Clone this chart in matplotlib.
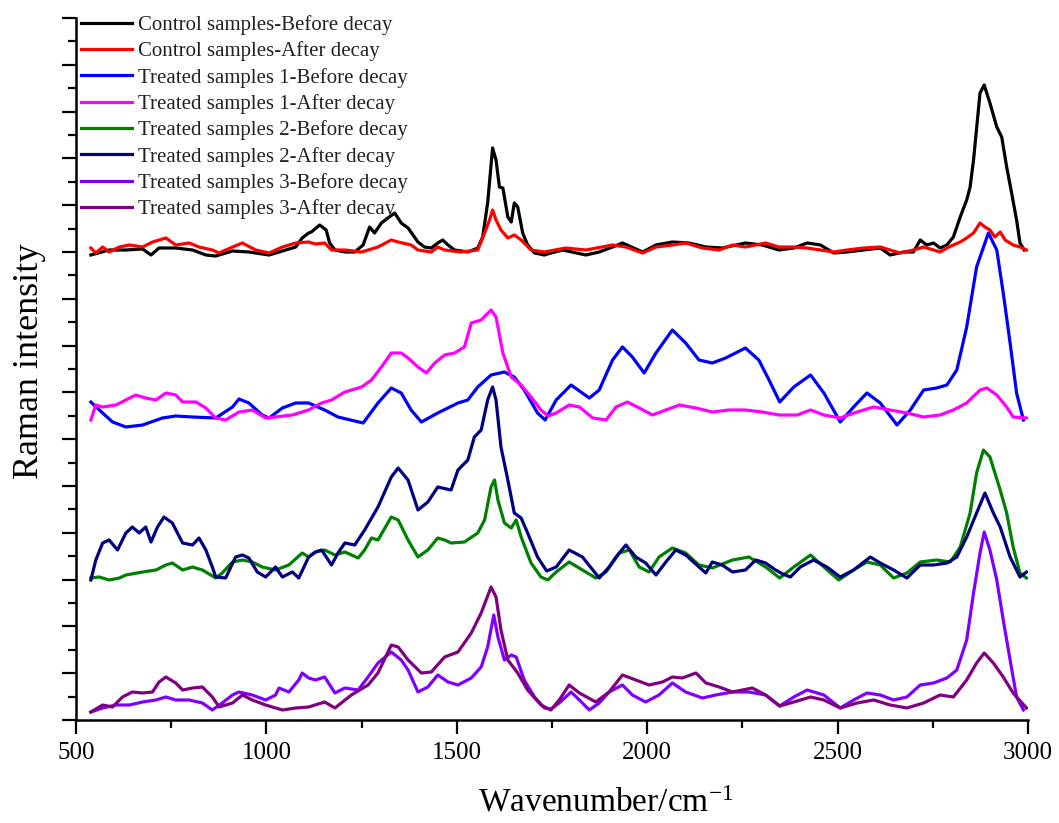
import matplotlib
matplotlib.use("Agg")
import matplotlib.pyplot as plt
from matplotlib.ticker import MultipleLocator, NullFormatter

plt.rcParams['font.family'] = ['Liberation Serif', 'DejaVu Serif']
plt.rcParams['mathtext.fontset'] = 'custom'
plt.rcParams['mathtext.rm'] = 'Liberation Serif'
plt.rcParams['mathtext.it'] = 'Liberation Serif:italic'

labels = ["Control samples-Before decay", "Control samples-After decay",
          "Treated samples 1-Before decay", "Treated samples 1-After decay",
          "Treated samples 2-Before decay", "Treated samples 2-After decay",
          "Treated samples 3-Before decay", "Treated samples 3-After decay"]
colors = ["#000000", "#ff0000", "#0000ff", "#ff00ff",
          "#008000", "#000080", "#8000ff", "#800080"]

cb_x = [539, 587, 631, 675, 697, 718, 762, 806, 841, 867, 911, 954, 1007, 1042, 1077, 1094, 1111, 1118, 1140, 1157, 1166, 1180, 1206, 1232, 1254, 1271, 1284, 1302, 1319, 1337, 1354, 1372, 1385, 1398, 1415, 1433, 1450, 1463, 1477, 1494, 1529, 1555, 1568, 1581, 1594, 1603, 1612, 1621, 1634, 1643, 1651, 1660, 1673, 1686, 1704, 1730, 1747, 1778, 1839, 1874, 1909, 1935, 1988, 2023, 2066, 2110, 2154, 2197, 2258, 2302, 2346, 2385, 2420, 2455, 2490, 2525, 2568, 2612, 2638, 2673, 2699, 2717, 2734, 2752, 2769, 2787, 2804, 2822, 2839, 2848, 2857, 2874, 2885, 2900, 2918, 2931, 2944, 2957, 2970, 2979, 2990]
cb_y = [465, 470, 470, 471, 465, 472, 472, 470, 465, 464, 469, 468, 465, 469, 473, 482, 487, 488, 495, 490, 477, 470, 468, 468, 475, 493, 487, 497, 502, 507, 497, 492, 485, 478, 473, 472, 477, 480, 475, 470, 468, 472, 483, 517, 572, 560, 533, 532, 503, 498, 517, 513, 487, 475, 467, 465, 467, 470, 465, 468, 473, 477, 468, 475, 478, 477, 473, 472, 477, 475, 470, 472, 477, 475, 467, 468, 470, 472, 465, 468, 468, 480, 475, 477, 472, 475, 483, 503, 520, 533, 560, 627, 635, 617, 593, 583, 553, 527, 500, 477, 470]

ca_x = [539, 552, 570, 587, 614, 640, 675, 701, 736, 762, 797, 823, 858, 876, 911, 937, 972, 1007, 1042, 1077, 1111, 1129, 1153, 1171, 1206, 1250, 1293, 1328, 1346, 1380, 1398, 1433, 1450, 1468, 1511, 1555, 1573, 1586, 1594, 1603, 1616, 1634, 1651, 1669, 1695, 1730, 1786, 1839, 1909, 1944, 1988, 2023, 2066, 2101, 2145, 2189, 2224, 2258, 2311, 2346, 2385, 2420, 2455, 2490, 2525, 2568, 2612, 2638, 2664, 2699, 2726, 2752, 2769, 2787, 2804, 2822, 2839, 2857, 2874, 2887, 2900, 2913, 2927, 2940, 2961, 2979, 2996]
ca_y = [472, 467, 473, 468, 473, 475, 473, 478, 482, 475, 477, 473, 470, 467, 473, 477, 470, 467, 473, 477, 478, 476, 477, 470, 470, 468, 473, 480, 478, 475, 470, 468, 473, 470, 468, 470, 487, 500, 510, 500, 490, 482, 485, 480, 470, 468, 472, 470, 475, 473, 467, 473, 475, 477, 472, 470, 475, 473, 477, 473, 473, 472, 470, 468, 470, 472, 473, 470, 467, 470, 473, 470, 468, 472, 475, 478, 482, 487, 497, 493, 490, 483, 488, 480, 475, 473, 470]

t1b_x = [539, 570, 596, 631, 675, 727, 762, 806, 867, 911, 928, 954, 989, 1007, 1042, 1077, 1111, 1129, 1153, 1188, 1254, 1293, 1328, 1354, 1380, 1407, 1450, 1503, 1529, 1555, 1590, 1625, 1651, 1677, 1712, 1732, 1761, 1800, 1848, 1874, 1909, 1935, 1961, 1992, 2023, 2066, 2101, 2136, 2171, 2206, 2258, 2293, 2320, 2348, 2385, 2429, 2464, 2507, 2542, 2577, 2612, 2656, 2691, 2726, 2760, 2787, 2813, 2839, 2865, 2896, 2918, 2935, 2953, 2970, 2988]
t1b_y = [318, 307, 298, 293, 295, 302, 304, 303, 302, 313, 321, 317, 305, 302, 312, 317, 317, 314, 310, 303, 297, 317, 332, 327, 310, 298, 307, 317, 320, 333, 345, 348, 343, 330, 307, 300, 320, 335, 322, 330, 360, 373, 363, 347, 367, 390, 377, 360, 357, 362, 372, 360, 340, 318, 333, 345, 327, 298, 313, 327, 317, 295, 310, 330, 332, 335, 350, 393, 453, 487, 470, 427, 377, 327, 300]

t1a_x = [539, 552, 570, 605, 631, 657, 683, 710, 736, 762, 780, 815, 841, 867, 893, 928, 963, 998, 1024, 1068, 1111, 1129, 1145, 1171, 1206, 1250, 1276, 1302, 1328, 1354, 1372, 1398, 1420, 1442, 1468, 1494, 1520, 1538, 1564, 1590, 1603, 1621, 1643, 1669, 1695, 1721, 1740, 1761, 1795, 1822, 1857, 1892, 1918, 1948, 1979, 2014, 2049, 2084, 2128, 2171, 2215, 2258, 2302, 2346, 2394, 2429, 2464, 2507, 2551, 2595, 2638, 2682, 2726, 2769, 2804, 2839, 2874, 2892, 2918, 2944, 2961, 2996]
t1a_y = [300, 315, 313, 315, 320, 325, 322, 320, 327, 325, 318, 318, 312, 302, 300, 308, 310, 302, 303, 305, 310, 314, 317, 320, 328, 333, 340, 353, 367, 367, 362, 353, 347, 357, 365, 367, 373, 397, 400, 410, 403, 367, 343, 335, 323, 310, 304, 307, 315, 313, 302, 300, 313, 318, 312, 305, 310, 315, 312, 308, 310, 310, 308, 305, 305, 310, 305, 302, 308, 313, 310, 307, 303, 305, 310, 317, 330, 332, 325, 313, 303, 302]

t2b_x = [539, 561, 587, 614, 631, 675, 710, 736, 753, 780, 806, 832, 867, 884, 911, 937, 963, 989, 1024, 1059, 1094, 1111, 1129, 1153, 1180, 1206, 1241, 1258, 1276, 1293, 1328, 1346, 1372, 1398, 1424, 1450, 1468, 1485, 1520, 1555, 1573, 1590, 1599, 1608, 1625, 1643, 1656, 1669, 1695, 1721, 1739, 1761, 1795, 1830, 1865, 1892, 1927, 1953, 1979, 2005, 2031, 2066, 2101, 2136, 2171, 2224, 2267, 2311, 2348, 2385, 2429, 2464, 2503, 2542, 2577, 2612, 2647, 2682, 2717, 2760, 2796, 2822, 2848, 2865, 2883, 2900, 2927, 2944, 2961, 2979, 2996]
t2b_y = [142, 143, 140, 142, 145, 148, 150, 155, 157, 150, 153, 150, 142, 147, 158, 160, 158, 153, 150, 155, 167, 163, 168, 170, 165, 168, 162, 170, 182, 180, 203, 200, 180, 163, 170, 182, 180, 177, 178, 187, 200, 233, 240, 220, 197, 192, 200, 183, 157, 143, 140, 148, 158, 150, 142, 148, 167, 170, 153, 148, 163, 172, 167, 155, 152, 160, 163, 153, 142, 153, 165, 153, 140, 150, 158, 155, 142, 147, 158, 160, 158, 173, 207, 247, 270, 263, 230, 207, 173, 147, 142]

t2a_x = [539, 552, 570, 587, 609, 631, 648, 666, 683, 697, 714, 731, 753, 780, 806, 823, 841, 858, 867, 893, 919, 937, 954, 976, 998, 1024, 1042, 1068, 1085, 1111, 1129, 1145, 1171, 1188, 1206, 1232, 1258, 1293, 1328, 1346, 1372, 1398, 1424, 1450, 1485, 1503, 1529, 1546, 1564, 1581, 1594, 1603, 1616, 1634, 1651, 1669, 1686, 1712, 1736, 1761, 1795, 1830, 1874, 1900, 1918, 1944, 1970, 1996, 2023, 2049, 2075, 2101, 2136, 2154, 2171, 2197, 2224, 2258, 2285, 2311, 2337, 2356, 2376, 2402, 2437, 2472, 2507, 2542, 2586, 2612, 2647, 2682, 2717, 2752, 2787, 2813, 2839, 2865, 2887, 2909, 2927, 2953, 2979, 2996]
t2a_y = [140, 160, 177, 180, 170, 187, 193, 187, 193, 178, 193, 203, 197, 177, 175, 182, 170, 153, 143, 142, 163, 165, 162, 148, 143, 153, 143, 148, 142, 163, 168, 170, 155, 167, 177, 175, 190, 213, 243, 252, 240, 210, 218, 233, 230, 250, 260, 283, 290, 320, 333, 320, 273, 240, 207, 202, 187, 163, 149, 153, 170, 163, 142, 153, 163, 175, 163, 157, 145, 158, 170, 165, 153, 147, 158, 155, 148, 150, 160, 157, 150, 146, 143, 153, 160, 153, 143, 150, 163, 157, 150, 142, 155, 155, 157, 163, 183, 207, 227, 207, 193, 163, 143, 148]

t3b_x = [539, 570, 605, 640, 675, 710, 736, 762, 797, 832, 858, 884, 911, 928, 963, 998, 1024, 1033, 1059, 1085, 1094, 1111, 1129, 1153, 1180, 1206, 1241, 1267, 1293, 1328, 1354, 1372, 1398, 1424, 1450, 1477, 1503, 1538, 1564, 1581, 1597, 1608, 1625, 1643, 1656, 1677, 1704, 1730, 1747, 1769, 1800, 1822, 1848, 1874, 1900, 1935, 1961, 1996, 2031, 2066, 2101, 2145, 2180, 2224, 2267, 2311, 2348, 2385, 2420, 2464, 2507, 2542, 2577, 2612, 2647, 2682, 2717, 2752, 2787, 2813, 2839, 2857, 2874, 2885, 2900, 2918, 2935, 2953, 2970, 2988]
t3b_y = [8, 12, 15, 15, 18, 20, 23, 20, 20, 17, 10, 17, 25, 28, 25, 20, 25, 32, 28, 40, 47, 42, 40, 43, 27, 32, 30, 43, 57, 68, 60, 50, 28, 33, 45, 38, 35, 42, 53, 73, 105, 83, 60, 65, 63, 40, 23, 12, 11, 17, 28, 20, 10, 17, 28, 35, 25, 18, 25, 37, 28, 22, 25, 28, 28, 25, 14, 23, 30, 25, 12, 20, 27, 25, 20, 23, 35, 37, 42, 50, 80, 127, 167, 188, 170, 140, 100, 60, 23, 10]

t3a_x = [539, 570, 596, 622, 648, 675, 701, 718, 736, 762, 780, 806, 832, 858, 876, 911, 937, 963, 998, 1042, 1077, 1111, 1153, 1180, 1223, 1267, 1293, 1328, 1346, 1372, 1407, 1433, 1468, 1503, 1538, 1564, 1590, 1603, 1616, 1634, 1660, 1686, 1721, 1747, 1769, 1795, 1822, 1865, 1900, 1935, 1970, 2005, 2040, 2066, 2092, 2128, 2154, 2189, 2224, 2276, 2311, 2348, 2385, 2429, 2464, 2507, 2551, 2595, 2638, 2682, 2726, 2769, 2804, 2839, 2865, 2885, 2909, 2935, 2961, 2996]
t3a_y = [8, 15, 13, 23, 28, 27, 28, 38, 43, 37, 30, 32, 33, 23, 13, 17, 25, 20, 15, 10, 12, 13, 18, 12, 25, 35, 47, 75, 73, 60, 47, 48, 63, 68, 87, 107, 133, 123, 90, 60, 47, 30, 15, 10, 20, 35, 27, 18, 28, 45, 40, 35, 38, 43, 42, 47, 37, 33, 28, 32, 25, 14, 18, 23, 20, 12, 17, 20, 15, 12, 17, 25, 23, 40, 57, 67, 57, 43, 27, 12]

series = [(cb_x, cb_y), (ca_x, ca_y), (t1b_x, t1b_y), (t1a_x, t1a_y),
          (t2b_x, t2b_y), (t2a_x, t2a_y), (t3b_x, t3b_y), (t3a_x, t3a_y)]

fig = plt.figure(figsize=(10.59, 8.23), dpi=100)
ax = fig.add_axes([76 / 1059, 1 - 720 / 823, (1028 - 76) / 1059, (720 - 18) / 823])

for (x, y), c, lab in zip(series, colors, labels):
    ax.plot(x, y, color=c, lw=2.3, label=lab, solid_joinstyle='round')

ax.set_xlim(500, 3000)
ax.set_ylim(0, 702)
ax.xaxis.set_major_locator(MultipleLocator(500))
ax.xaxis.set_minor_locator(MultipleLocator(250))
ax.yaxis.set_major_locator(MultipleLocator(46.8))
ax.yaxis.set_minor_locator(MultipleLocator(23.4))
ax.yaxis.set_major_formatter(NullFormatter())
ax.tick_params(which='major', direction='out', length=10, width=1.6, labelsize=18, pad=6)
ax.tick_params(which='minor', direction='out', length=5.5, width=1.6)
for s in ['top', 'right']:
    ax.spines[s].set_visible(False)
for s in ['left', 'bottom']:
    ax.spines[s].set_linewidth(1.8)

ax.set_xlabel("Wavenumber/cm$^{\\mathrm{-1}}$", fontsize=24)
ax.xaxis.set_label_coords((606 - 76) / 952, -(818 - 720) / 702)
ax.xaxis.label.set_va('bottom')
ax.set_ylabel("Raman intensity", fontsize=26)
ax.yaxis.set_label_coords(-(76 - 46) / 952, 0.5 + 8 / 702)

leg = fig.legend(loc='upper left', bbox_to_anchor=(81 / 1059, 1 - 15 / 823),
                 frameon=False, fontsize=15, handlelength=2.45, handletextpad=0.3,
                 labelspacing=0.31, borderpad=0, borderaxespad=0)
for t in leg.get_texts():
    t.set_color('#222222')

fig.savefig("out.png", dpi=100, facecolor='white')
